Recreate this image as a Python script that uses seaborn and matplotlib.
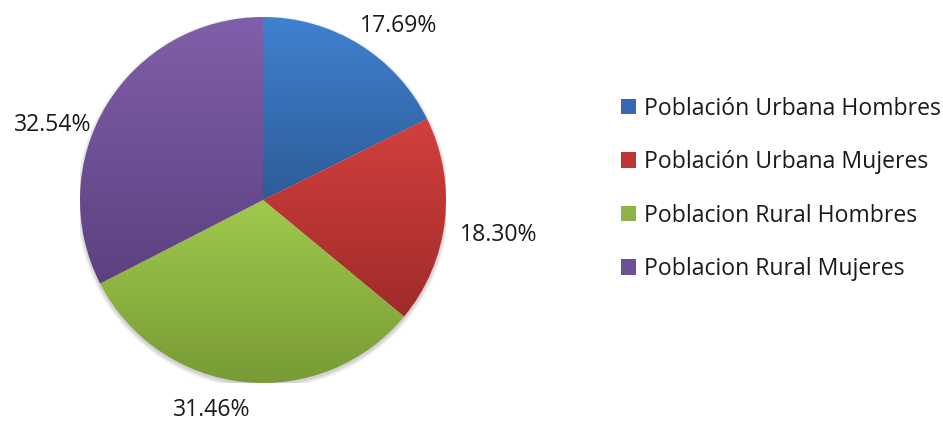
import numpy as np
import matplotlib
matplotlib.use("Agg")
import matplotlib.pyplot as plt
import matplotlib.colors as mcolors
from matplotlib.patches import Patch
import seaborn as sns

sns.set_theme(style="white")
plt.rcParams["font.family"] = ["Open Sans", "DejaVu Sans"]

categories = [
    "Población Urbana Hombres",
    "Población Urbana Mujeres",
    "Poblacion Rural Hombres",
    "Poblacion Rural Mujeres",
]
shares = [17.69, 18.30, 31.46, 32.54]
top_colors = ["#4081d0", "#d2403d", "#a0c94c", "#8060a9"]
bottom_colors = ["#2d5c98", "#a02b29", "#789b36", "#5c4080"]
legend_colors = ["#3669b3", "#bb3734", "#8db343", "#6c4f95"]

# label placement (in pie-radius units) for each percentage
label_pos = [(0.74, 0.95), (1.29, -0.19), (-0.28, -1.15), (-1.15, 0.41)]

fig = plt.figure(figsize=(9.43, 4.22), dpi=100)
ax = fig.add_axes([80 / 943, 39 / 422, 366 / 943, 366 / 422])

# soft shadow under the pie
for k in range(6):
    sh = plt.Circle((0.0, -0.012), 1.0 + 0.004 * k, color="#000000",
                    alpha=0.03, zorder=0.5, linewidth=0)
    ax.add_patch(sh)

wedges, _ = ax.pie(shares, startangle=90, counterclock=False, radius=1.0,
                   colors=top_colors, wedgeprops=dict(linewidth=0))

for w, c_top, c_bot in zip(wedges, top_colors, bottom_colors):
    bb = w.get_path().get_extents(w.get_transform() + ax.transData.inverted())
    cmap = mcolors.LinearSegmentedColormap.from_list("g", [c_bot, c_top])
    grad = np.linspace(0, 1, 256).reshape(-1, 1)
    im = ax.imshow(grad, cmap=cmap, origin="lower", aspect="auto",
                   extent=[bb.x0, bb.x1, bb.y0, bb.y1], zorder=2,
                   interpolation="bicubic")
    im.set_clip_path(w)
    w.set_facecolor("none")

for v, (lx, ly) in zip(shares, label_pos):
    ax.text(lx, ly, f"{v:.2f}%", ha="center", va="center", fontsize=16.6,
            color="#1a1a1a", clip_on=False)

ax.set_xlim(-1, 1)
ax.set_ylim(-1, 1)
ax.set_aspect("equal")
ax.axis("off")

handles = [Patch(facecolor=c, edgecolor="none") for c in legend_colors]
fig.legend(handles, categories, loc="upper left",
           bbox_to_anchor=(600 / 943, 1 - 76 / 422), frameon=False,
           fontsize=16.6, handlelength=0.65, handleheight=0.65,
           handletextpad=0.35, labelspacing=1.28, labelcolor="#1a1a1a")

fig.savefig("out.png", dpi=100, facecolor="white")
